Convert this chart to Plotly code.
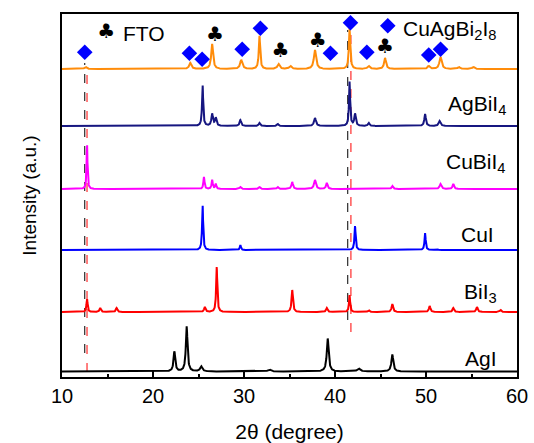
import numpy as np
import plotly.graph_objects as go

# ---------------- data ----------------
# y is in "display units" (0 = bottom of frame, 363 = top)
names = ["CuAgBi<sub>2</sub>I<sub>8</sub>", "AgBiI<sub>4</sub>", "CuBiI<sub>4</sub>", "CuI", "BiI<sub>3</sub>", "AgI"]
colors = ["#FF8C0A", "#161680", "#FF00FF", "#0000FF", "#FF0000", "#000000"]
baselines = [308, 251, 188, 127, 65, 5.5]

# peak positions (2theta, degree), heights (display units), widths (FWHM, degree)
cuagbi_pos = [12.6, 24.1, 26.5, 29.7, 31.7, 33.8, 35.1, 37.8, 41.6, 43.7, 45.5, 50.3, 51.6, 53.6, 55.2]
cuagbi_h   = [2, 6, 25, 9, 33, 5, 3, 19, 41, 3, 11, 3, 12, 2, 2]
cuagbi_w   = [0.3, 0.3, 0.25, 0.3, 0.18, 0.3, 0.3, 0.3, 0.18, 0.3, 0.25, 0.3, 0.3, 0.3, 0.3]

agbi_pos = [25.45, 26.5, 26.9, 29.6, 31.7, 33.7, 37.8, 41.6, 42.2, 43.7, 49.9, 51.5]
agbi_h   = [41, 12, 8, 6, 3, 2, 8, 44, 12, 3, 12, 5]
agbi_w   = [0.15, 0.2, 0.2, 0.2, 0.2, 0.2, 0.25, 0.15, 0.2, 0.2, 0.2, 0.25]

cubi_pos = [12.75, 25.6, 26.5, 26.9, 29.6, 31.7, 33.7, 35.3, 37.8, 39.1, 46.3, 51.6, 53.0]
cubi_h   = [45, 12, 9, 5, 2, 2, 2, 7, 9, 6, 3, 5, 5]
cubi_w   = [0.12, 0.15, 0.15, 0.15, 0.2, 0.2, 0.2, 0.2, 0.25, 0.2, 0.2, 0.25, 0.2]

cui_pos = [25.45, 29.6, 42.2, 49.9, 51.2]
cui_h   = [45, 5, 24, 17, 1]
cui_w   = [0.14, 0.15, 0.15, 0.15, 0.2]

bii3_pos = [12.75, 14.2, 16.0, 25.7, 27.0, 35.3, 39.1, 41.6, 43.7, 46.3, 50.4, 53.0, 55.6, 58.2]
bii3_h   = [13, 4, 4, 5, 45, 22, 4, 17, 2, 8, 6, 4, 5, 2]
bii3_w   = [0.15, 0.2, 0.2, 0.2, 0.15, 0.18, 0.2, 0.15, 0.2, 0.2, 0.2, 0.2, 0.2, 0.2]

agi_pos = [22.35, 23.7, 25.3, 32.8, 39.2, 42.6, 46.3]
agi_h   = [20, 45, 5, 2, 33, 3, 17]
agi_w   = [0.22, 0.22, 0.3, 0.4, 0.25, 0.4, 0.25]

peaks = [(cuagbi_pos, cuagbi_h, cuagbi_w), (agbi_pos, agbi_h, agbi_w),
         (cubi_pos, cubi_h, cubi_w), (cui_pos, cui_h, cui_w),
         (bii3_pos, bii3_h, bii3_w), (agi_pos, agi_h, agi_w)]

# label anchor (right edge x in degree, center y)
label_x = [None, 59.0, 59.0, 57.7, 58.0, 58.0]
label_y = [0, 272, 214, 143, 84, 19]

# CuAgBi2I8 reflection markers (diamonds) and FTO markers (clubs)
diamond_x = [12.5, 24.0, 25.4, 29.8, 31.8, 39.5, 41.7, 43.5, 50.3, 51.6]
diamond_y = [324.7, 323.7, 317.7, 327.7, 348.7, 323.7, 354.3, 324.7, 322, 327.7]
club_x = [26.8, 34.0, 38.1, 45.5]
club_y = [341.3, 324.7, 334.7, 328.7]

# legend-like keys inside the plot
key_diamond = (45.8, 351.3)
key_club = (14.87, 344.3)
key_fto_text = (16.5, 344)
key_cuagbi_text = (47.3, 347)

# dashed reference lines: x, y0, y1, color
dash_x = [12.5, 12.75, 41.4, 41.75]
dash_y0 = [24, 5, 57, 45]
dash_y1 = [314, 309, 347, 345]
dash_col = ["#000000", "#FF0000", "#000000", "#FF0000"]

# ---------------- figure ----------------
x = np.arange(10, 60.001, 0.02)
fig = go.Figure()

for name, col, base, (p, h, w) in zip(names, colors, baselines, peaks):
    y = np.full_like(x, float(base))
    for pp, hh, ww in zip(p, h, w):
        g = (ww / 2) ** 2
        y += hh * g / ((x - pp) ** 2 + g)
    fig.add_trace(go.Scatter(x=x, y=y, mode="lines", line=dict(color=col, width=2),
                             showlegend=False, hoverinfo="skip"))

shapes = []
for dx, y0, y1, dc in zip(dash_x, dash_y0, dash_y1, dash_col):
    shapes.append(dict(type="line", xref="x", yref="y", x0=dx, x1=dx, y0=y0, y1=y1,
                       line=dict(color=dc, width=1, dash="dash"), layer="below"))

fig.add_trace(go.Scatter(x=diamond_x + [key_diamond[0]], y=diamond_y + [key_diamond[1]], mode="markers",
                         marker=dict(symbol="diamond", size=12, color="#0000FF"),
                         showlegend=False, hoverinfo="skip"))
fig.add_trace(go.Scatter(x=club_x + [key_club[0]], y=club_y + [key_club[1]],
                         mode="text", text=["♣"] * 5,
                         textfont=dict(size=20, color="#000000", family="DejaVu Sans"),
                         showlegend=False, hoverinfo="skip"))

font = "Liberation Sans, Arial, sans-serif"
annotations = [
    dict(x=key_fto_text[0], y=key_fto_text[1], xref="x", yref="y", text="FTO", showarrow=False,
         xanchor="left", yanchor="middle", font=dict(size=21, color="black", family=font)),
    dict(x=key_cuagbi_text[0], y=key_cuagbi_text[1], xref="x", yref="y", text=names[0],
         showarrow=False, xanchor="left", yanchor="middle",
         font=dict(size=21, color="black", family=font)),
]
for i in range(1, 6):
    annotations.append(dict(x=label_x[i], y=label_y[i], xref="x", yref="y", text=names[i],
                            showarrow=False, xanchor="right", yanchor="middle",
                            font=dict(size=21, color="black", family=font)))

fig.update_layout(
    width=534, height=443,
    margin=dict(l=62, r=17, t=14, b=66),
    paper_bgcolor="white", plot_bgcolor="white",
    shapes=shapes, annotations=annotations,
    font=dict(family=font, color="black"),
    xaxis=dict(range=[10, 60], tickmode="linear", tick0=10, dtick=10, automargin=False,
               ticks="inside", ticklen=6, tickwidth=1.5, tickcolor="black",
               minor=dict(ticks="inside", dtick=5, ticklen=3, tickwidth=1.5, tickcolor="black"),
               showline=True, linecolor="black", linewidth=2, mirror=True,
               showgrid=False, zeroline=False,
               tickfont=dict(size=20, family=font, color="black"),
               title=dict(text="2θ (degree)", font=dict(size=21, family=font), standoff=20)),
    yaxis=dict(range=[0, 363], showticklabels=False, ticks="", automargin=False,
               showline=True, linecolor="black", linewidth=2, mirror=True,
               showgrid=False, zeroline=False,
               title=dict(text="Intensity (a.u.)", font=dict(size=19, family=font), standoff=18)),
)

fig.write_html("out.html")
